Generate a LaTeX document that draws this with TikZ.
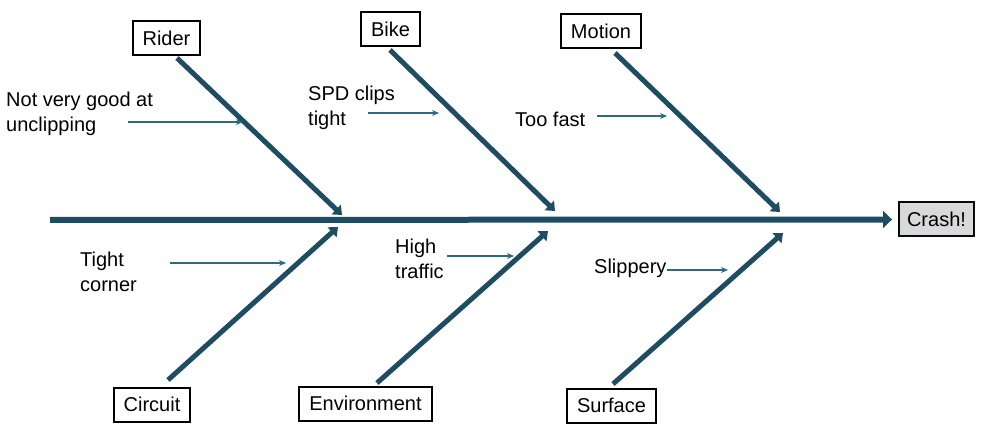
\documentclass[tikz,border=0pt]{standalone}
\usepackage{fontspec}
\setmainfont{Liberation Sans}
\usetikzlibrary{arrows.meta}
\definecolor{bonecol}{RGB}{30,76,98}
\definecolor{causecol}{RGB}{45,105,130}
\definecolor{headfill}{RGB}{217,217,217}

\begin{document}
\begin{tikzpicture}[x=1pt, y=-1pt,
        every node/.style={font=\fontsize{20}{25}\selectfont},
        cat/.style={draw=black, line width=2pt, minimum height=34pt, inner xsep=10pt, inner ysep=0pt},
        effect/.style={cat, fill=headfill, draw=black!85!bonecol, inner xsep=8pt},
        spine/.style={draw=bonecol, line width=6pt, -{Triangle[length=9pt,width=17pt]}},
        bone/.style={draw=bonecol, line width=5pt, -{Triangle[length=8pt,width=13pt]}},
        cause/.style={draw=causecol, line width=1.4pt, -{Stealth[length=7pt,width=6pt]}},
        note/.style={align=left, anchor=west, inner sep=0pt}]
        \useasboundingbox (0,0) rectangle (988,430);
        % Spine and effect
        \coordinate (tail) at (50,220);
        \node[effect] (crash) at (936.5,219.5) {Crash!};
        \draw[spine] (tail) -- ([xshift=-6pt]crash.west);
        % Categories
        \node[cat] (rider) at (166.5,38) {Rider};
        \node[cat] (bike) at (390.5,29) {Bike};
        \node[cat] (motion) at (601,31.5) {Motion};
        \node[cat] (circuit) at (152,404.5) {Circuit};
        \node[cat] (environment) at (365.5,403.5) {Environment};
        \node[cat] (surface) at (611.5,405.5) {Surface};
        % Bone ends
        \coordinate (riderS) at (177,58);
        \coordinate (riderE) at (342,215);
        \coordinate (bikeS) at (390,50);
        \coordinate (bikeE) at (555,211);
        \coordinate (motionS) at (615,53);
        \coordinate (motionE) at (780,212);
        \coordinate (circuitS) at (168,380);
        \coordinate (circuitE) at (338,227);
        \coordinate (environmentS) at (377,383);
        \coordinate (environmentE) at (548,231);
        \coordinate (surfaceS) at (613,384);
        \coordinate (surfaceE) at (783,233);
        % Bones
        \draw[bone] (riderS) -- (riderE);
        \draw[bone] (bikeS) -- (bikeE);
        \draw[bone] (motionS) -- (motionE);
        \draw[bone] (circuitS) -- (circuitE);
        \draw[bone] (environmentS) -- (environmentE);
        \draw[bone] (surfaceS) -- (surfaceE);
        % Causes
        \node[note] (unclip) at (6,114) {Not very good at\\unclipping};
        \node[note] (clips) at (308,107.5) {SPD clips\\tight};
        \node[note] (fast) at (515,119) {Too fast};
        \node[note] (corner) at (80,272) {Tight\\corner};
        \node[note] (traffic) at (395,259) {High\\traffic};
        \node[note] (slip) at (594,268) {Slippery};
        \coordinate (unclipA) at (128,122);
        \coordinate (unclipB) at (243,122);
        \coordinate (clipsA) at (368,113);
        \coordinate (clipsB) at (439,113);
        \coordinate (fastA) at (597,116);
        \coordinate (fastB) at (667,116);
        \coordinate (cornerA) at (170,263);
        \coordinate (cornerB) at (286,263);
        \coordinate (trafficA) at (447,256);
        \coordinate (trafficB) at (514,256);
        \coordinate (slipA) at (667,270);
        \coordinate (slipB) at (728,270);
        \draw[cause] (unclipA) -- (unclipB);
        \draw[cause] (clipsA) -- (clipsB);
        \draw[cause] (fastA) -- (fastB);
        \draw[cause] (cornerA) -- (cornerB);
        \draw[cause] (trafficA) -- (trafficB);
        \draw[cause] (slipA) -- (slipB);
    \end{tikzpicture}
\end{document}
